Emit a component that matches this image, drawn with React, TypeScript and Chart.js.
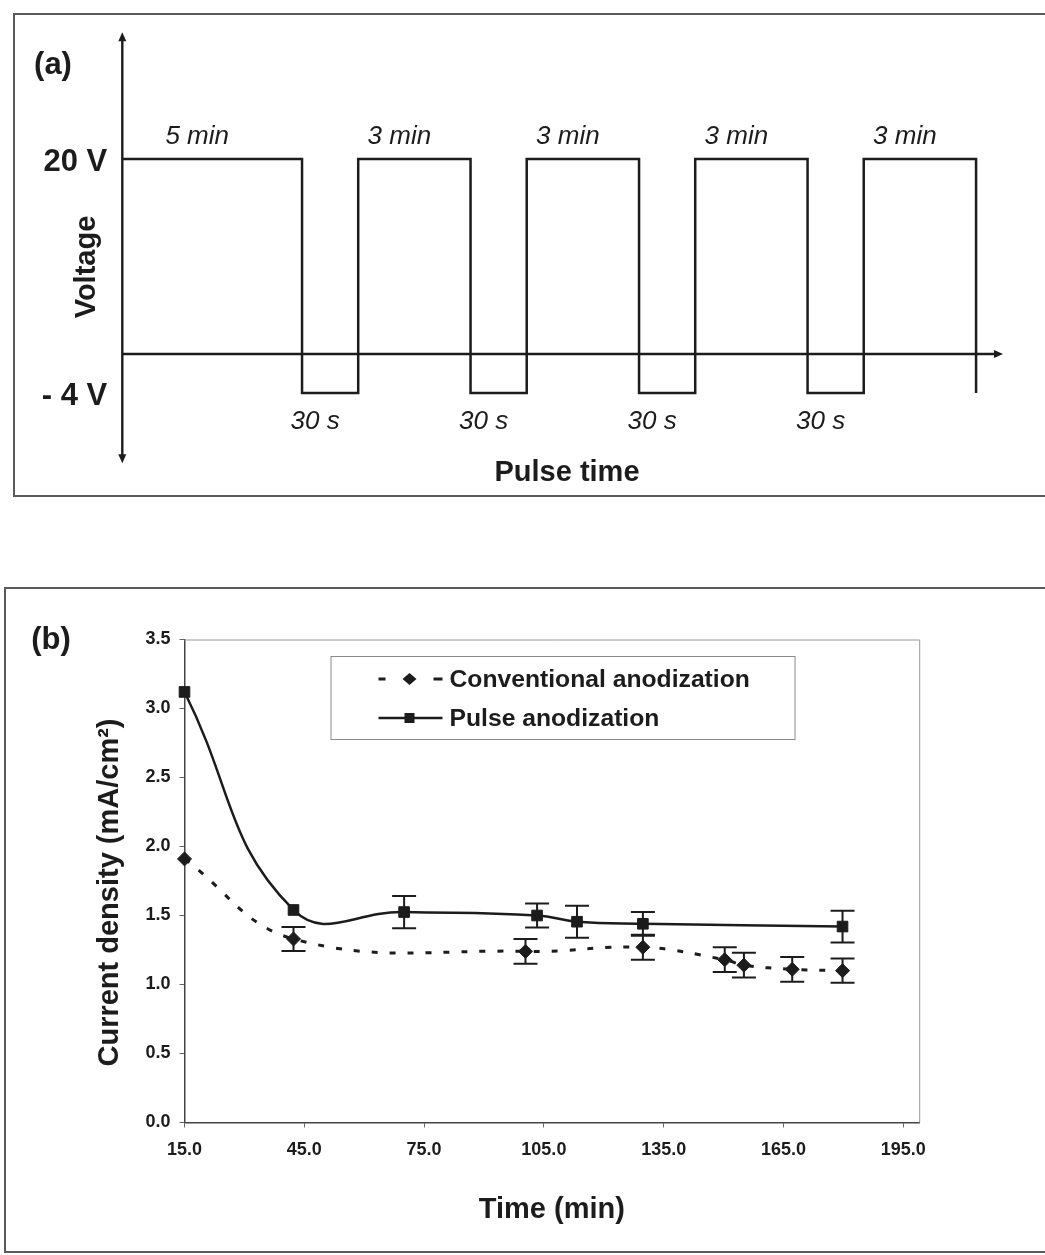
import React, { useEffect, useRef } from 'react';
import { Chart, registerables } from 'chart.js';

Chart.register(...registerables);

const FONT = '"Liberation Sans", Arial, Helvetica, sans-serif';
const INK = '#1c1c1c';

// ---- (a) pulse programme (schematic, segment widths are drawing units, not to time scale)
const segmentLabels = ['5 min', '30 s', '3 min', '30 s', '3 min', '30 s', '3 min', '30 s', '3 min'];
const segmentLevels = [20, -4, 20, -4, 20, -4, 20, -4, 20];
const segmentWidths = [3.2, 1, 2, 1, 2, 1, 2, 1, 2];
const voltageTicks = [20, -4];
const voltageTickLabels = ['20 V', '- 4 V'];
const voltageAxisTop = 33;
const voltageAxisBottom = -11.2;
const timeAxisEnd = 15.68;

// ---- (b) current density vs time
const convTime = [15, 42.3, 100.4, 129.8, 150.3, 155.1, 167.2, 179.8];
const convCurrent = [1.91, 1.33, 1.24, 1.27, 1.18, 1.14, 1.11, 1.10];
const convError = [0, 0.087, 0.09, 0.09, 0.09, 0.09, 0.09, 0.088];

const pulseTime = [15, 42.3, 70.0, 103.3, 113.3, 129.8, 179.8];
const pulseCurrent = [3.12, 1.54, 1.525, 1.50, 1.455, 1.44, 1.42];
const pulseError = [0, 0, 0.117, 0.087, 0.116, 0.086, 0.115];

const timeTicks = [15, 45, 75, 105, 135, 165, 195];

Chart.defaults.font.family = FONT;
Chart.defaults.color = INK;

function programmePoints() {
  const pts: { x: number; y: number }[] = [];
  let t = 0;
  segmentWidths.forEach((w, i) => {
    pts.push({ x: t, y: segmentLevels[i] });
    t += w;
  });
  pts.push({ x: t, y: segmentLevels[segmentLevels.length - 1] });
  pts.push({ x: t, y: segmentLevels[1] });
  return pts;
}

function arrowHead(ctx: CanvasRenderingContext2D, x: number, y: number, dx: number, dy: number) {
  const len = 9;
  const half = 4;
  const px = -dy;
  const py = dx;
  ctx.beginPath();
  ctx.moveTo(x, y);
  ctx.lineTo(x - dx * len + px * half, y - dy * len + py * half);
  ctx.lineTo(x - dx * len - px * half, y - dy * len - py * half);
  ctx.closePath();
  ctx.fill();
}

const schematicPlugin = {
  id: 'schematic',
  afterDatasetsDraw(chart: any) {
    const { ctx } = chart;
    const x = chart.scales.x;
    const y = chart.scales.y;
    const x0 = x.getPixelForValue(0);
    const yZero = y.getPixelForValue(0);
    const yTop = y.getPixelForValue(voltageAxisTop);
    const yBot = y.getPixelForValue(voltageAxisBottom);
    const xEnd = x.getPixelForValue(timeAxisEnd);
    ctx.save();
    ctx.strokeStyle = INK;
    ctx.fillStyle = INK;
    ctx.lineWidth = 2.4;
    // voltage axis (double arrow)
    ctx.beginPath();
    ctx.moveTo(x0, yTop + 4);
    ctx.lineTo(x0, yBot - 4);
    ctx.stroke();
    arrowHead(ctx, x0, yTop, 0, -1);
    arrowHead(ctx, x0, yBot, 0, 1);
    // time axis
    ctx.beginPath();
    ctx.moveTo(x0, yZero);
    ctx.lineTo(xEnd - 4, yZero);
    ctx.stroke();
    arrowHead(ctx, xEnd, yZero, 1, 0);

    // level labels
    ctx.font = `bold 31px ${FONT}`;
    ctx.textAlign = 'right';
    ctx.textBaseline = 'middle';
    voltageTicks.forEach((v, i) => {
      ctx.fillText(voltageTickLabels[i], x0 - 15, y.getPixelForValue(v) + 3);
    });

    // segment durations
    ctx.font = `italic 26px ${FONT}`;
    ctx.textAlign = 'center';
    let t = 0;
    segmentWidths.forEach((w, i) => {
      const cx = x.getPixelForValue(t + w / 2) - 15;
      const lv = segmentLevels[i];
      const cy = lv > 0 ? y.getPixelForValue(lv) - 22 : y.getPixelForValue(lv) + 29;
      ctx.fillText(segmentLabels[i], cx, cy);
      t += w;
    });

    // axis titles and panel tag
    ctx.font = `bold 29px ${FONT}`;
    ctx.fillText('Pulse time', 567, 473);
    ctx.save();
    ctx.translate(x0 - 35, 267);
    ctx.rotate(-Math.PI / 2);
    ctx.fillText('Voltage', 0, 0);
    ctx.restore();
    ctx.font = `bold 31px ${FONT}`;
    ctx.fillText('(a)', 53, 65);
    ctx.restore();
  },
};

const errorBarPlugin = {
  id: 'errorBars',
  afterDatasetsDraw(chart: any) {
    const { ctx } = chart;
    const xs = chart.scales.x;
    const ys = chart.scales.y;
    ctx.save();
    ctx.strokeStyle = INK;
    ctx.lineWidth = 2;
    chart.data.datasets.forEach((ds: any) => {
      const errs: number[] = ds.errorBars || [];
      ds.data.forEach((p: any, i: number) => {
        const e = errs[i];
        if (!e) return;
        const px = xs.getPixelForValue(p.x);
        const top = ys.getPixelForValue(p.y + e);
        const bot = ys.getPixelForValue(p.y - e);
        ctx.beginPath();
        ctx.moveTo(px, top);
        ctx.lineTo(px, bot);
        ctx.moveTo(px - 12, top);
        ctx.lineTo(px + 12, top);
        ctx.moveTo(px - 12, bot);
        ctx.lineTo(px + 12, bot);
        ctx.stroke();
      });
    });
    ctx.restore();
  },
};

const frameAndLegendPlugin = {
  id: 'frameLegend',
  beforeDatasetsDraw(chart: any) {
    const { ctx, chartArea: a } = chart;
    ctx.save();
    ctx.strokeStyle = '#9a9a9a';
    ctx.lineWidth = 1;
    ctx.beginPath();
    ctx.moveTo(a.left, a.top + 0.5);
    ctx.lineTo(a.right + 0.5, a.top + 0.5);
    ctx.lineTo(a.right + 0.5, a.bottom);
    ctx.stroke();
    ctx.restore();
  },
  afterDraw(chart: any) {
    const { ctx, chartArea: a } = chart;
    ctx.save();
    // legend box
    const bx = a.left + 146;
    const by = a.top + 16.5;
    ctx.fillStyle = '#fff';
    ctx.fillRect(bx, by, 464, 83);
    ctx.strokeStyle = '#8a8a8a';
    ctx.lineWidth = 1;
    ctx.strokeRect(bx + 0.5, by + 0.5, 464, 83);

    const ds = chart.data.datasets;
    const sx0 = bx + 48;
    const sx1 = bx + 112;
    const mx = bx + 79;
    const y1 = by + 23;
    const y2 = by + 62;
    ctx.strokeStyle = INK;
    ctx.fillStyle = INK;
    // conventional sample: - ◆ -
    ctx.lineWidth = 3;
    ctx.beginPath();
    ctx.moveTo(sx0, y1);
    ctx.lineTo(sx0 + 7, y1);
    ctx.moveTo(sx1 - 9, y1);
    ctx.lineTo(sx1, y1);
    ctx.stroke();
    ctx.beginPath();
    ctx.moveTo(mx, y1 - 6);
    ctx.lineTo(mx + 7, y1);
    ctx.lineTo(mx, y1 + 6);
    ctx.lineTo(mx - 7, y1);
    ctx.closePath();
    ctx.fill();
    // pulse sample: —■—
    ctx.lineWidth = 2.5;
    ctx.beginPath();
    ctx.moveTo(sx0, y2);
    ctx.lineTo(sx1, y2);
    ctx.stroke();
    ctx.fillRect(mx - 5, y2 - 5, 10, 10);

    ctx.font = `bold 24.7px ${FONT}`;
    ctx.textAlign = 'left';
    ctx.textBaseline = 'middle';
    ctx.fillText(ds[0].label, bx + 119, y1 + 1);
    ctx.fillText(ds[1].label, bx + 119, y2 + 1);

    // y-axis title and panel tag
    ctx.font = `bold 29px ${FONT}`;
    ctx.textAlign = 'center';
    ctx.save();
    ctx.translate(110, a.top + 253);
    ctx.rotate(-Math.PI / 2);
    ctx.fillText('Current density (mA/cm²)', 0, 0);
    ctx.restore();
    ctx.font = `bold 31px ${FONT}`;
    ctx.fillText('(b)', 51, a.top + 1);
    ctx.restore();
  },
};

const tickFont = { family: FONT, size: 18, weight: 'bold' as const };

export default function App() {
  const refA = useRef<HTMLCanvasElement>(null);
  const refB = useRef<HTMLCanvasElement>(null);

  useEffect(() => {
    const chartA = new Chart(refA.current as HTMLCanvasElement, {
      type: 'line',
      data: {
        datasets: [
          {
            label: 'Voltage',
            data: programmePoints(),
            stepped: 'before',
            borderColor: INK,
            borderWidth: 2.5,
            pointRadius: 0,
            fill: false,
            clip: false,
          },
        ],
      },
      options: {
        responsive: false,
        animation: false,
        layout: { padding: { left: 122.3, right: 24, top: 22.5, bottom: 69 } },
        plugins: { legend: { display: false }, tooltip: { enabled: false } },
        scales: {
          x: { type: 'linear', display: false, min: 0, max: 16 },
          y: { type: 'linear', display: false, min: -12, max: 34 },
        },
      },
      plugins: [schematicPlugin],
    } as any);

    const chartB = new Chart(refB.current as HTMLCanvasElement, {
      type: 'line',
      data: {
        datasets: [
          {
            label: 'Conventional anodization',
            data: convTime.map((t, i) => ({ x: t, y: convCurrent[i] })),
            errorBars: convError,
            borderColor: INK,
            backgroundColor: INK,
            borderWidth: 3,
            borderDash: [6, 12],
            pointStyle: 'rectRot',
            pointRadius: 7,
            pointBorderWidth: 1,
            pointBackgroundColor: INK,
            tension: 0.4,
            fill: false,
            clip: false,
          },
          {
            label: 'Pulse anodization',
            data: pulseTime.map((t, i) => ({ x: t, y: pulseCurrent[i] })),
            errorBars: pulseError,
            borderColor: INK,
            backgroundColor: INK,
            borderWidth: 2.5,
            pointStyle: 'rect',
            pointRadius: 7.5,
            pointBorderWidth: 1,
            pointBackgroundColor: INK,
            tension: 0.45,
            fill: false,
            clip: false,
          },
        ],
      },
      options: {
        responsive: false,
        animation: false,
        layout: { padding: { left: 0, top: 99.5, right: 125.8, bottom: 0 } },
        plugins: { legend: { display: false }, tooltip: { enabled: false } },
        scales: {
          x: {
            type: 'linear',
            min: 15,
            max: 199,
            afterBuildTicks: (s: any) => {
              s.ticks = timeTicks.map((v) => ({ value: v }));
            },
            afterFit: (s: any) => {
              s.height = 132.5;
            },
            ticks: {
              callback: (v: any) => Number(v).toFixed(1),
              font: tickFont,
              color: INK,
              padding: 12,
              maxRotation: 0,
              autoSkip: false,
            },
            grid: { drawOnChartArea: false, drawTicks: true, tickLength: 5, color: '#666' },
            border: { color: '#444', width: 1.5 },
            title: {
              display: true,
              text: 'Time (min)',
              font: { family: FONT, size: 29, weight: 'bold' },
              color: INK,
              padding: { top: 0, bottom: 28 },
            },
          },
          y: {
            type: 'linear',
            min: 0,
            max: 3.5,
            afterFit: (s: any) => {
              s.width = 184.5;
            },
            ticks: {
              stepSize: 0.5,
              callback: (v: any) => Number(v).toFixed(1),
              font: tickFont,
              color: INK,
              padding: 9,
            },
            grid: { drawOnChartArea: false, drawTicks: true, tickLength: 5, color: '#666' },
            border: { color: '#444', width: 1.5 },
          },
        },
      },
      plugins: [frameAndLegendPlugin, errorBarPlugin],
    } as any);

    return () => {
      chartA.destroy();
      chartB.destroy();
    };
  }, []);

  return (
    <div
      style={{
        position: 'absolute',
        left: 0,
        top: 0,
        width: 1045,
        height: 1255,
        overflow: 'hidden',
        background: '#fff',
      }}
    >
      <canvas
        ref={refA}
        width={1045}
        height={540}
        style={{ position: 'absolute', left: 0, top: 0, display: 'block' }}
      />
      <canvas
        ref={refB}
        width={1045}
        height={715}
        style={{ position: 'absolute', left: 0, top: 540, display: 'block' }}
      />
      <div
        style={{
          position: 'absolute',
          left: 13,
          top: 13,
          width: 1100,
          height: 484,
          border: '2px solid #5a5a5a',
          boxSizing: 'border-box',
          pointerEvents: 'none',
        }}
      />
      <div
        style={{
          position: 'absolute',
          left: 4,
          top: 587,
          width: 1100,
          height: 666,
          border: '2px solid #5a5a5a',
          boxSizing: 'border-box',
          pointerEvents: 'none',
        }}
      />
    </div>
  );
}
